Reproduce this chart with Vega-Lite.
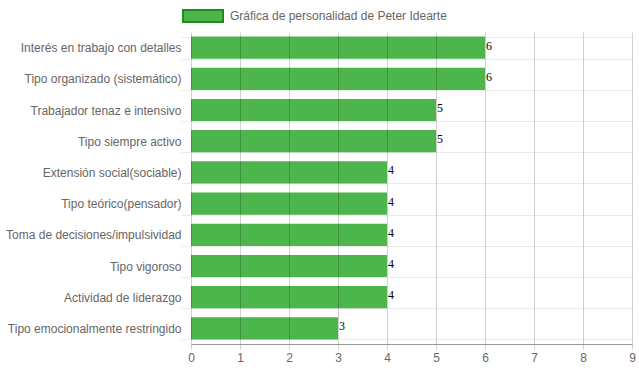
{
  "$schema": "https://vega.github.io/schema/vega-lite/v6.json",
  "autosize": "none",
  "width": 441,
  "height": 312,
  "padding": {"left": 191, "top": 32, "right": 7, "bottom": 28},
  "background": "white",
  "config": {
    "view": {"stroke": null},
    "font": "Liberation Sans",
    "axis": {"labelFont": "Liberation Sans", "labelFontSize": 12, "labelColor": "#666666"}
  },
  "data": {
    "values": [
      {"rasgo": "Interés en trabajo con detalles", "valor": 6, "serie": "Gráfica de personalidad de Peter Idearte"},
      {"rasgo": "Tipo organizado (sistemático)", "valor": 6, "serie": "Gráfica de personalidad de Peter Idearte"},
      {"rasgo": "Trabajador tenaz e intensivo", "valor": 5, "serie": "Gráfica de personalidad de Peter Idearte"},
      {"rasgo": "Tipo siempre activo", "valor": 5, "serie": "Gráfica de personalidad de Peter Idearte"},
      {"rasgo": "Extensión social(sociable)", "valor": 4, "serie": "Gráfica de personalidad de Peter Idearte"},
      {"rasgo": "Tipo teórico(pensador)", "valor": 4, "serie": "Gráfica de personalidad de Peter Idearte"},
      {"rasgo": "Toma de decisiones/impulsividad", "valor": 4, "serie": "Gráfica de personalidad de Peter Idearte"},
      {"rasgo": "Tipo vigoroso", "valor": 4, "serie": "Gráfica de personalidad de Peter Idearte"},
      {"rasgo": "Actividad de liderazgo", "valor": 4, "serie": "Gráfica de personalidad de Peter Idearte"},
      {"rasgo": "Tipo emocionalmente restringido", "valor": 3, "serie": "Gráfica de personalidad de Peter Idearte"}
    ]
  },
  "encoding": {
    "y": {
      "field": "rasgo", "type": "nominal", "sort": null,
      "scale": {"paddingInner": 0.29, "paddingOuter": 0.145},
      "axis": {
        "title": null, "tickBand": "extent", "domain": false,
        "grid": true, "gridColor": "#ebebeb", "gridWidth": 1,
        "ticks": true, "tickSize": 10, "tickColor": "#ebebeb", "labelPadding": 0
      }
    },
    "x": {
      "field": "valor", "type": "quantitative",
      "scale": {"domain": [0, 9], "nice": false},
      "axis": {
        "title": null, "values": [0,1,2,3,4,5,6,7,8,9], "format": "d", "labelFlush": false,
        "grid": true, "gridColor": "#000000", "gridOpacity": 0.18, "gridWidth": 1,
        "ticks": true, "tickSize": 5, "tickColor": "#d0d0d0", "zindex": 1,
        "domain": true, "domainColor": "#999999", "labelPadding": 3
      }
    }
  },
  "layer": [
    {
      "mark": {"type": "bar"},
      "encoding": {
        "color": {
          "field": "serie", "type": "nominal",
          "scale": {"range": ["#4cb54c"]},
          "legend": {
            "title": null, "orient": "none", "legendX": -9, "legendY": -37,
            "symbolType": "M-1,-0.3H1V0.3H-1Z", "symbolSize": 1600,
            "symbolStrokeWidth": 2, "symbolStrokeColor": "#1e8c1e", "labelLimit": 0,
            "labelFont": "Liberation Sans", "labelFontSize": 12, "labelColor": "#666666",
            "labelOffset": 6
          }
        }
      }
    },
    {
      "mark": {"type": "text", "align": "left", "baseline": "alphabetic", "dx": 1, "dy": 2, "font": "Liberation Serif", "fontSize": 12, "color": "black"},
      "encoding": {"text": {"field": "valor", "type": "quantitative"}}
    }
  ]
}
